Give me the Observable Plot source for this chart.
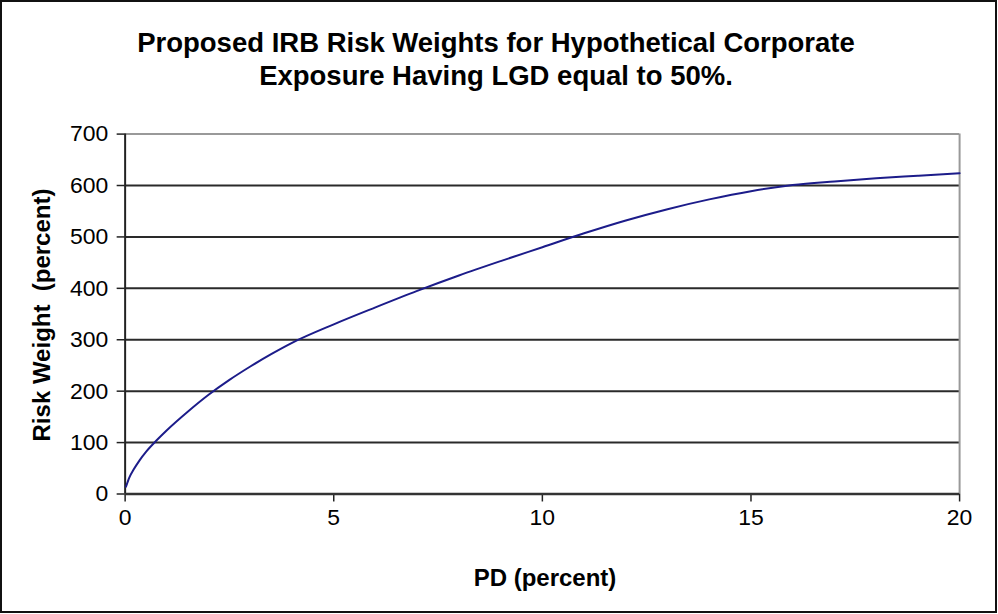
<!DOCTYPE html>
<html>
<head>
<meta charset="utf-8">
<script src="https://cdn.jsdelivr.net/npm/d3@7"></script>
<script src="https://cdn.jsdelivr.net/npm/@observablehq/plot@0.6"></script>
<style>
  html, body { margin: 0; padding: 0; background: #fff; }
  #frame { position: relative; width: 997px; height: 613px; box-sizing: border-box; border: 2px solid #111; background: #fff; overflow: hidden; font-family: "Liberation Sans", Arial, sans-serif; }
  #chart { position: absolute; left: -2px; top: -2px; }
  .title { position: absolute; left: 0; width: 988px; text-align: center; font-weight: bold; font-size: 27.5px; color: #000; white-space: pre; }
  .xlab { position: absolute; top: 562px; left: 443px; width: 200px; text-align: center; font-weight: bold; font-size: 24px; white-space: pre; }
  .ylab { position: absolute; left: 40px; top: 313px; transform: translate(-50%, -50%) rotate(-90deg); font-weight: bold; font-size: 24px; white-space: pre; }
</style>
</head>
<body>
<div id="frame">
  <div class="title" style="top:25px">Proposed IRB Risk Weights for Hypothetical Corporate</div>
  <div class="title" style="top:58px">Exposure Having LGD equal to 50%.</div>
  <div id="chart"></div>
  <div class="xlab">PD (percent)</div>
  <div class="ylab">Risk Weight  (percent)</div>
</div>
<script>
const pd = [0.02, 0.1, 0.2, 0.35, 0.5, 0.75, 1.0, 1.5, 2.0, 2.5, 3, 3.5, 4, 5, 6, 7, 8, 9, 10, 11, 12, 13, 14, 15, 16, 17, 18, 19, 20];
const riskWeight = [14, 32, 47, 66, 82, 104, 124, 160, 193, 222, 248, 272, 294, 330, 363, 395, 425, 453, 480, 507, 532, 554, 573, 589, 601, 608, 614, 619, 624];
const xTicks = [0, 5, 10, 15, 20];
const yTicks = [0, 100, 200, 300, 400, 500, 600, 700];

const data = pd.map((x, i) => ({x, y: riskWeight[i]}));

const chart = Plot.plot({
  width: 998,
  height: 614,
  marginTop: 134,
  marginBottom: 119,
  marginLeft: 125,
  marginRight: 36,
  x: {domain: [0, 20]},
  y: {domain: [0, 700]},
  style: {fontFamily: "'Liberation Sans', Arial, sans-serif", fontSize: "23px", color: "#000", background: "transparent", overflow: "visible"},
  marks: [
    Plot.ruleY(yTicks.filter(d => d > 0 && d < 700), {stroke: "#2a2a2a", strokeWidth: 2}),
    Plot.ruleY([700], {stroke: "#999", strokeWidth: 2}),
    Plot.ruleX([20], {stroke: "#999", strokeWidth: 2}),
    Plot.axisX({ticks: xTicks, tickSize: 8, tickPadding: 7, label: null, stroke: "#222", strokeWidth: 1.5, fontSize: 23}),
    Plot.axisY({ticks: yTicks, tickSize: 8, tickPadding: 9, label: null, stroke: "#222", strokeWidth: 1.5, fontSize: 23}),
    Plot.ruleX([0], {stroke: "#222", strokeWidth: 2}),
    Plot.ruleY([0], {stroke: "#333", strokeWidth: 2.5}),
    Plot.line(data, {x: "x", y: "y", stroke: "#1c1c8a", strokeWidth: 2, curve: "monotone-x"})
  ]
});
document.getElementById("chart").appendChild(chart);
</script>
</body>
</html>
